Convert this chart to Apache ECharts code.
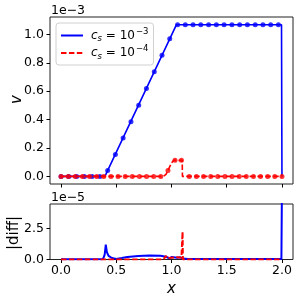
<!DOCTYPE html>
<html><head><meta charset="utf-8">
<script src="https://cdn.jsdelivr.net/npm/echarts@6/dist/echarts.min.js"></script>
<style>html,body{margin:0;padding:0;background:#fff}#c{width:300px;height:300px}</style>
</head><body><div id="c"></div>
<script>
// ---- data (top panel, units of 1e-3) ----
const blueMarkX = [0, 0.070, 0.141, 0.211, 0.281, 0.352, 0.422, 0.492, 0.562, 0.633, 0.703, 0.773, 0.844, 0.914, 0.984, 1.055, 1.125, 1.195, 1.265, 1.336, 1.406, 1.476, 1.547, 1.617, 1.687, 1.758, 1.828, 1.898, 1.968];
const blueMarkV = [0, 0, 0, 0, 0, 0, 0.042, 0.155, 0.270, 0.385, 0.502, 0.620, 0.737, 0.854, 0.970, 1.068, 1.068, 1.068, 1.068, 1.068, 1.068, 1.068, 1.068, 1.068, 1.068, 1.068, 1.068, 1.068, 1.068];
const blueLineX = [0, 0.397, 1.044, 1.996, 2.0];
const blueLineV = [0, 0, 1.068, 1.068, 0];
const redMarkX = [0, 0.065, 0.129, 0.194, 0.258, 0.323, 0.387, 0.452, 0.516, 0.581, 0.645, 0.710, 0.774, 0.839, 0.903, 0.968, 1.032, 1.090, 1.161, 1.226, 1.290, 1.355, 1.419, 1.484, 1.548, 1.613, 1.677, 1.742, 1.806, 1.871, 1.935, 2.0];
const redMarkV = [0, 0, 0, 0, 0, 0, 0, 0, 0, 0, 0, 0, 0, 0, 0, 0.042, 0.113, 0.113, 0, 0, 0, 0, 0, 0, 0, 0, 0, 0, 0, 0, 0, 0];
const redLineX = [0, 0.925, 0.95, 0.968, 1.0, 1.02, 1.097, 1.099, 2.0];
const redLineV = [0, 0, 0.015, 0.042, 0.095, 0.113, 0.113, 0, 0];
// ---- data (bottom panel |diff|, units of 1e-5) ----
const blueDiffX = [0, 0.38, 0.395, 0.405, 0.415, 0.43, 0.46, 0.5, 0.55, 0.6, 0.7, 0.8, 0.9, 0.95, 0.98, 1.0, 1.05, 1.08, 1.1, 1.15, 1.995, 2.0];
const blueDiffV = [0.03, 0.03, 0.4, 1.2, 0.6, 0.3, 0.12, 0.05, 0.12, 0.2, 0.28, 0.32, 0.3, 0.22, 0.1, 0.2, 0.15, 0.18, 0.08, 0.05, 0.05, 6];
const redDiffX = [0, 0.9, 0.93, 0.95, 0.96, 1.0, 1.05, 1.09, 1.097, 1.1, 1.103, 2.0];
const redDiffV = [0, 0, 0.05, 0.3, 0.1, 0.15, 0.18, 0.15, 0, 2.25, 0, 0];
// ---- ticks ----
const xTicks = [0, 0.5, 1.0, 1.5, 2.0];
const yTicksTop = [0, 0.2, 0.4, 0.6, 0.8, 1.0];
const yTicksBot = [0, 2.5];

const zip = (xs, ys) => xs.map((x, i) => [x, ys[i]]);
const FONT = 'DejaVu Sans';
const BLUE = '#0000ff', RED = '#ff0000';
const tick = {show: true, length: 3.5, lineStyle: {color: '#000', width: 1}};
const lab = {formatter: v => v.toFixed(1), color: '#000', fontFamily: FONT, fontSize: 12.5};

function xAxisDef(gi, showLabels) {
  return {
    type: 'value', gridIndex: gi, min: -0.1, max: 2.1, position: 'bottom',
    axisLine: {show: false, onZero: false}, splitLine: {show: false},
    axisTick: Object.assign({customValues: xTicks}, tick),
    axisLabel: Object.assign({show: showLabels, customValues: xTicks, margin: 5}, lab),
    name: showLabels ? 'x' : '', nameLocation: 'middle', nameGap: 22,
    nameTextStyle: {fontFamily: FONT, fontStyle: 'italic', fontSize: 15, color: '#000'}
  };
}
function yAxisDef(gi, min, max, ticks) {
  return {
    type: 'value', gridIndex: gi, min: min, max: max, position: 'left',
    axisLine: {show: false, onZero: false}, splitLine: {show: false},
    axisTick: Object.assign({customValues: ticks}, tick),
    axisLabel: Object.assign({customValues: ticks, margin: 6}, lab)
  };
}
const subRich = {
  c: {fontFamily: FONT, fontStyle: 'italic', fontSize: 12, color: '#000'},
  s: {fontFamily: FONT, fontStyle: 'italic', fontSize: 8.5, color: '#000', padding: [7, 0, 0, 0]},
  t: {fontFamily: FONT, fontSize: 12, color: '#000'},
  p: {fontFamily: FONT, fontSize: 8.5, color: '#000', padding: [0, 0, 8, 1]}
};

const chart = echarts.init(document.getElementById('c'), null, {renderer: 'canvas'});
chart.setOption({
  animation: false,
  backgroundColor: '#fff',
  grid: [
    {left: 50, top: 17, width: 243, height: 167, show: true, borderColor: '#222', borderWidth: 1, backgroundColor: 'transparent'},
    {left: 50, top: 204, width: 243, height: 55.5, show: true, borderColor: '#222', borderWidth: 1, backgroundColor: 'transparent'}
  ],
  xAxis: [xAxisDef(0, false), xAxisDef(1, true)],
  yAxis: [yAxisDef(0, -0.0535, 1.123, yTicksTop), yAxisDef(1, 0, 4.5, yTicksBot)],
  legend: {
    data: ['cs3', 'cs4'], orient: 'vertical', left: 56, top: 23,
    padding: [4, 5, 4, 4], itemGap: 1, itemWidth: 22, itemHeight: 17,
    backgroundColor: 'rgba(255,255,255,0.8)', borderColor: '#d0d0d0', borderWidth: 1, borderRadius: 3,
    itemStyle: {color: 'transparent', borderColor: 'transparent', borderWidth: 0, opacity: 0},
    formatter: n => n === 'cs3' ? '{c|c}{s|s}{t| = 10}{p|−3}' : '{c|c}{s|s}{t| = 10}{p|−4}',
    textStyle: {rich: subRich, padding: [0, 0, 0, 3]}
  },
  graphic: [
    {type: 'text', left: 51, top: 4, style: {text: '1e\u22123', font: '12.5px "DejaVu Sans"', fill: '#000'}},
    {type: 'text', left: 51, top: 191, style: {text: '1e\u22125', font: '12.5px "DejaVu Sans"', fill: '#000'}},
    {type: 'text', x: 10, y: 104, rotation: Math.PI / 2, style: {text: 'v', font: 'italic 15px "DejaVu Sans"', fill: '#000'}},
    {type: 'text', x: 7, y: 250, rotation: Math.PI / 2, style: {text: '|diff|', font: '15px "DejaVu Sans"', fill: '#000'}}
  ],
  series: [
    {name: 'cs3', type: 'line', xAxisIndex: 0, yAxisIndex: 0, data: zip(blueLineX, blueLineV), symbol: 'none', lineStyle: {color: BLUE, width: 1.6}, itemStyle: {color: BLUE}, z: 2},
    {type: 'scatter', xAxisIndex: 0, yAxisIndex: 0, data: zip(blueMarkX, blueMarkV), symbolSize: 5, itemStyle: {color: BLUE}, z: 3},
    {name: 'cs4', type: 'line', xAxisIndex: 0, yAxisIndex: 0, data: zip(redLineX, redLineV), symbol: 'none', lineStyle: {color: RED, width: 1.6, type: [5.5, 2.4]}, itemStyle: {color: RED}, z: 4},
    {type: 'scatter', xAxisIndex: 0, yAxisIndex: 0, data: zip(redMarkX, redMarkV), symbolSize: 5, itemStyle: {color: RED}, z: 5},
    {type: 'line', xAxisIndex: 1, yAxisIndex: 1, data: zip(blueDiffX, blueDiffV), symbol: 'none', lineStyle: {color: BLUE, width: 2}, clip: true, z: 2},
    {type: 'line', xAxisIndex: 1, yAxisIndex: 1, data: zip(redDiffX, redDiffV), symbol: 'none', lineStyle: {color: RED, width: 2, type: [5.5, 2.4]}, clip: true, z: 4}
  ]
});
</script></body></html>
